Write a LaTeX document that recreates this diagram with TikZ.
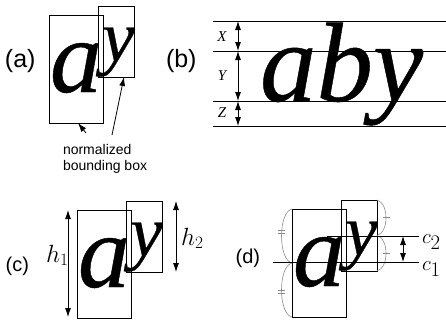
\documentclass[tikz,border=0pt]{standalone}
\usepackage{fontspec}
\setmainfont{Liberation Serif}
\setsansfont{Liberation Sans}
\newfontfamily\glyphfont{Liberation Serif Italic}[FakeBold=0.4]
\usetikzlibrary{arrows.meta,calc}
\tikzset{
  bx/.style={draw, line width=1pt, inner sep=0pt, outer sep=0pt, anchor=north west},
  glyph/.style={inner sep=0pt, outer sep=0pt, anchor=base west},
  tipa/.style={-{Latex[length=9pt,width=6pt]}, line width=0.8pt},
  dtip/.style={{Latex[length=9pt,width=6pt]}-{Latex[length=9pt,width=6pt]}, line width=0.8pt},
  rulel/.style={line width=1pt},
  arcl/.style={draw=black!45, line width=0.6pt},
  plabel/.style={inner sep=0pt, outer sep=0pt, anchor=base west, font=\sffamily},
}
\newcommand\aypair[1]{%
  \node[bx, minimum width=54pt, minimum height=108pt] (#1A) at (49,15) {};
  \node[bx, minimum width=36pt, minimum height=71pt] (#1Y) at (98,6) {};
  \node[glyph, font=\fontsize{104}{104}\glyphfont] (#1a) at (50,92) {a};
  \node[glyph, font=\fontsize{73}{73}\glyphfont] (#1y) at (102,61) {y};
}
\begin{document}
\begin{tikzpicture}[x=1pt,y=-1pt]
\useasboundingbox (0,0) rectangle (446,324);
% ---------- (a)
\node[plabel, font=\sffamily\fontsize{25}{25}\selectfont] (la) at (5,67) {(a)};
\aypair{a}
\node[glyph, font=\sffamily\fontsize{14}{14}\selectfont] (n1) at (63,154) {normalized};
\node[glyph, font=\sffamily\fontsize{14}{14}\selectfont] (n2) at (63,170) {bounding box};
\coordinate (t1) at (86,133);
\coordinate (t2) at (112,135);
\draw[tipa] (t1) -- ($(aA.south west)+(29,0)$);
\draw[tipa] (t2) -- ($(aY.south west)+(26,0)$);
% ---------- (b)
\node[plabel, font=\sffamily\fontsize{25}{25}\selectfont] (lb) at (166,67) {(b)};
\foreach \n/\yy in {0/21,1/51,2/101,3/126}{
  \coordinate (L\n) at (213,\yy);
  \coordinate (R\n) at (446,\yy);
  \coordinate (M\n) at (238,\yy);
  \draw[rulel] (L\n) -- (R\n);
}
\draw[dtip] (M0) -- (M1);
\draw[dtip] (M1) -- (M2);
\draw[dtip] (M2) -- (M3);
\node[inner sep=0pt, font=\fontsize{15}{15}\selectfont\itshape] (X) at (222,37) {X};
\node[inner sep=0pt, font=\fontsize{15}{15}\selectfont\itshape] (Y) at (222,76) {Y};
\node[inner sep=0pt, font=\fontsize{15}{15}\selectfont\itshape] (Z) at (222,113) {Z};
\node[glyph, font=\fontsize{113}{113}\glyphfont] (aby) at (260,101) {aby};
% ---------- (c)
\node[plabel, font=\sffamily\fontsize{20}{20}\selectfont] (lc) at (5.6,271) {(c)};
\begin{scope}[shift={(28,195)}]
  \aypair{c}
\end{scope}
\coordinate (h1t) at (68,210);
\coordinate (h1b) at (68,317);
\coordinate (h2t) at (176,201);
\coordinate (h2b) at (176,272);
\draw[dtip] (h1t) -- (h1b);
\draw[dtip] (h2t) -- (h2b);
\node[glyph, font=\fontsize{25}{25}\selectfont] (h1) at (46,262) {$h_1$};
\node[glyph, font=\fontsize{25}{25}\selectfont] (h2) at (181,245) {$h_2$};
% ---------- (d)
\node[plabel, font=\sffamily\fontsize{20}{20}\selectfont] (ld) at (235.6,263) {(d)};
\begin{scope}[shift={(243,194)}]
  \aypair{d}
  \draw[arcl] (49,15) .. controls (35,18) and (35,66) .. (49,69);
  \draw[arcl] (49,69) .. controls (35,72) and (35,120) .. (49,123);
  \draw[arcl] (134,6) .. controls (146,9) and (146,38.5) .. (134,41.5);
  \draw[arcl] (134,41.5) .. controls (146,44.5) and (146,74) .. (134,77);
  \draw[arcl] (35,36.5) -- (42,36.5) (35,39.5) -- (42,39.5);
  \draw[arcl] (35,96.5) -- (42,96.5) (35,99.5) -- (42,99.5);
  \draw[arcl] (140,23) -- (147,23);
  \draw[arcl] (140,59.5) -- (147,59.5);
\end{scope}
\coordinate (c1L) at (273,262);
\coordinate (c1R) at (419,262);
\coordinate (c2L) at (327,236);
\coordinate (c2R) at (419,236);
\draw[rulel] (c1L) -- (c1R);
\draw[rulel] (c2L) -- (c2R);
\coordinate (ca) at (403,236);
\coordinate (cb) at (403,262);
\draw[dtip] (ca) -- (cb);
\node[glyph, font=\fontsize{22}{22}\selectfont] (c1) at (422,270) {$c_{\textstyle 1}$};
\node[glyph, font=\fontsize{22}{22}\selectfont] (c2) at (422,243) {$c_{\textstyle 2}$};
\end{tikzpicture}
\end{document}
